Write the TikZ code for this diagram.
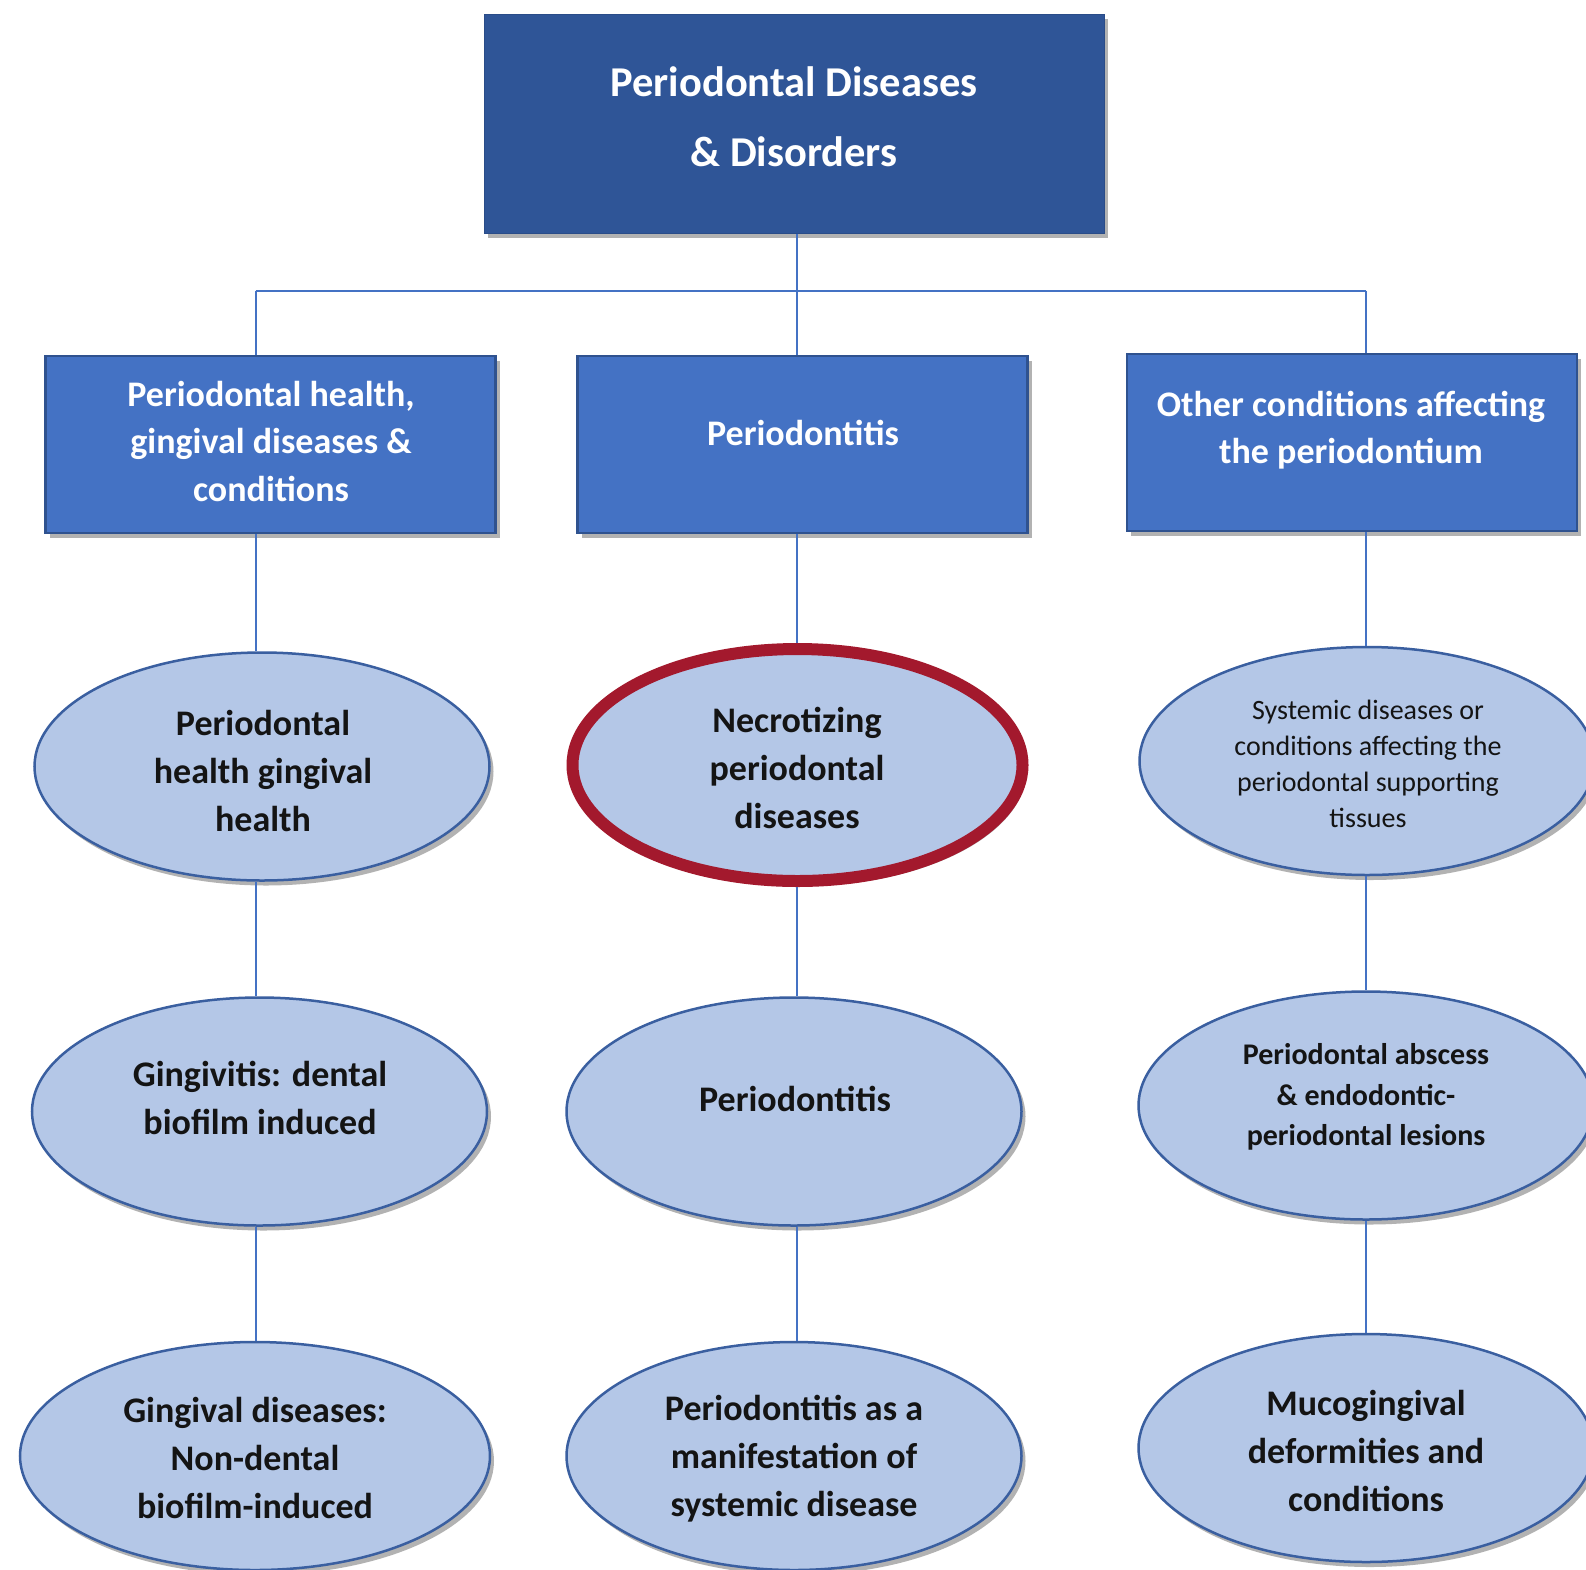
\documentclass[tikz,border=0pt]{standalone}
\usepackage{fontspec}
\setmainfont{Carlito}
\usetikzlibrary{shapes.geometric,shadows}
\definecolor{topblue}{HTML}{2F5597}
\definecolor{midblue}{HTML}{4472C4}
\definecolor{edgeblue}{HTML}{2F528F}
\definecolor{ellfill}{HTML}{B4C7E7}
\definecolor{ellline}{HTML}{3A5FA0}
\definecolor{hired}{HTML}{A3192D}
\definecolor{txtdark}{HTML}{141414}
\tikzset{
  shad/.style={drop shadow={shadow xshift=4pt,shadow yshift=-5pt,opacity=0.4,fill=black!75}},
  topbox/.style={rectangle,fill=topblue,draw=topblue!90!black,line width=1pt,minimum width=620pt,minimum height=219pt,inner sep=0pt,shad},
  catbox/.style={rectangle,fill=midblue,draw=edgeblue,line width=2.5pt,minimum width=450pt,minimum height=177pt,inner sep=0pt,shad},
  ell/.style={ellipse,fill=ellfill,draw=ellline,line width=2.5pt,minimum width=455pt,minimum height=228pt,inner sep=0pt,shad},
  redell/.style={ellipse,fill=ellfill,draw=hired,line width=12pt,minimum width=450pt,minimum height=232pt,inner sep=0pt,shad},
  wtxt/.style={text=white,font=\bfseries\fontsize{36}{47.5}\selectfont,align=center,inner sep=0pt},
  toptxt/.style={text=white,font=\bfseries\fontsize{42.5}{70}\selectfont,align=center,inner sep=0pt},
  dtxt/.style={text=txtdark,font=\bfseries\fontsize{36}{48}\selectfont,align=center,inner sep=0pt},
  stxt/.style={text=txtdark,font=\fontsize{28}{36}\selectfont,align=center,inner sep=0pt},
  mtxt/.style={text=txtdark,font=\bfseries\fontsize{30}{40.5}\selectfont,align=center,inner sep=0pt},
  conn/.style={draw=midblue,line width=2pt}
}
\begin{document}
\begin{tikzpicture}[x=1pt,y=-1pt]
\useasboundingbox (0,0) rectangle (1586,1569);
\fill[white] (0,0) rectangle (1586,1569);
\clip (0,0) rectangle (1586,1569);

% junction coordinates
\coordinate (jL) at (255.5,290.5);
\coordinate (jM) at (797,290.5);
\coordinate (jR) at (1366,290.5);

% top
\node[topbox] (top) at (794,123.5) {};
\node[toptxt] (toptext) at (794,117) {Periodontal Diseases\\\& Disorders};

% level 2 boxes
\node[catbox] (boxL) at (270.5,444.5) {};
\node[catbox] (boxM) at (802.5,444.5) {};
\node[catbox] (boxR) at (1352,442.5) {};

% ellipses row 1
\node[ell] (e1L) at (262,766.5) {};
\node[redell] (e1M) at (797.5,765) {};
\node[ell] (e1R) at (1367,761) {};
% row 2
\node[ell] (e2L) at (259.5,1111.5) {};
\node[ell] (e2M) at (794,1111.5) {};
\node[ell] (e2R) at (1366,1105.5) {};
% row 3
\node[ell,minimum width=470pt] (e3L) at (255,1456) {};
\node[ell] (e3M) at (794,1456) {};
\node[ell] (e3R) at (1366,1448) {};

% connector lines
\path[conn] (top.south -| jM) -- (jM);
\path[conn] (jL) -- (jR);
\path[conn] (jL) -- (jL |- boxL.north);
\path[conn] (jM) -- (jM |- boxM.north);
\path[conn] (jR) -- (jR |- boxR.north);
\path[conn] (jL |- boxL.south) -- (jL |- e1L.north);
\path[conn] (jM |- boxM.south) -- (jM |- e1M.north);
\path[conn] (jR |- boxR.south) -- (jR |- e1R.north);
\path[conn] (jL |- e1L.south) -- (jL |- e2L.north);
\path[conn] (jM |- e1M.south) -- (jM |- e2M.north);
\path[conn] (jR |- e1R.south) -- (jR |- e2R.north);
\path[conn] (jL |- e2L.south) -- (jL |- e3L.north);
\path[conn] (jM |- e2M.south) -- (jM |- e3M.north);
\path[conn] (jR |- e2R.south) -- (jR |- e3R.north);

% texts
\node[wtxt] (tL) at (271,441) {Periodontal health,\\gingival diseases \&\\conditions};
\node[wtxt] (tM) at (803,433) {Periodontitis};
\node[wtxt] (tR) at (1351,430) {Other conditions affecting\\the periodontium};

\node[dtxt] (t1L) at (263,771) {Periodontal\\health gingival\\health};
\node[dtxt] (t1M) at (797,768) {Necrotizing\\periodontal\\diseases};
\node[stxt] (t1R) at (1368,764) {Systemic diseases or\\conditions affecting the\\periodontal supporting\\tissues};

\node[dtxt] (t2L) at (260,1098) {Gingivitis: dental\\biofilm induced};
\node[dtxt] (t2M) at (795,1098.5) {Periodontitis};
\node[mtxt] (t2R) at (1366,1097) {Periodontal abscess\\\& endodontic-\\periodontal lesions};

\node[dtxt] (t3L) at (255,1458) {Gingival diseases:\\Non-dental\\biofilm-induced};
\node[dtxt] (t3M) at (794,1458.5) {Periodontitis as a\\manifestation of\\systemic disease};
\node[dtxt] (t3R) at (1366,1450.5) {Mucogingival\\deformities and\\conditions};
\end{tikzpicture}
\end{document}
